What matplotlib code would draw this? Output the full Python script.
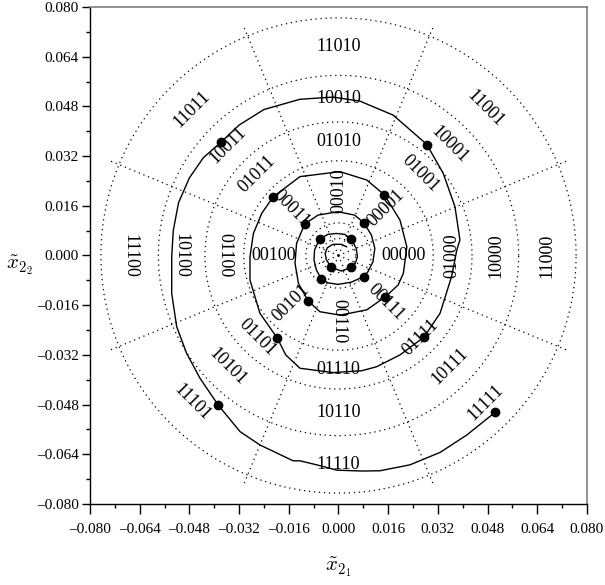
import numpy as np
import matplotlib
matplotlib.use("Agg")
import matplotlib.pyplot as plt
from matplotlib.ticker import MultipleLocator, FuncFormatter

plt.rcParams['font.family'] = ['Liberation Serif', 'DejaVu Serif']
plt.rcParams['mathtext.fontset'] = 'cm'

# trajectory (outer start -> centre)
traj_x = [0.0504, 0.0413, 0.0327, 0.0230, 0.0134, 0.0075, -0.0006, -0.0070, -0.0124, -0.0146,
          -0.0253, -0.0317, -0.0387, -0.0446, -0.0489, -0.0521, -0.0537, -0.0537, -0.0532, -0.0515,
          -0.0480, -0.0435, -0.0378, -0.0320, -0.0240, -0.0124, -0.0018, 0.0069, 0.0176, 0.0284,
          0.0337, 0.0375, 0.0391, 0.0381, 0.0364, 0.0327, 0.0275, 0.0198, 0.0123, 0.0075,
          -0.0017, -0.0124, -0.0170, -0.0197, -0.0253, -0.0285, -0.0285, -0.0274, -0.0247, -0.0210,
          -0.0124, 0.0005, 0.0091, 0.0148, 0.0198, 0.0220, 0.0209, 0.0192, 0.0151, 0.0091,
          0.0005, -0.0060, -0.0098, -0.0129, -0.0140, -0.0135, -0.0109, -0.0066, -0.0002, 0.0052,
          0.0081, 0.0106, 0.0117, 0.0111, 0.0095, 0.0081, 0.0041, -0.0002, -0.0034, -0.0055,
          -0.0071, -0.0079, -0.0077, -0.0061, -0.0034, -0.0007, 0.0020, 0.0041, 0.0057, 0.0061,
          0.0054, 0.0041, 0.0009, -0.0023, -0.0039, -0.0043, -0.0036, -0.0018, 0.0009, 0.0026]
traj_y = [-0.0505, -0.0578, -0.0634, -0.0674, -0.0693, -0.0694, -0.0691, -0.0674, -0.0661, -0.0661,
          -0.0610, -0.0567, -0.0482, -0.0395, -0.0315, -0.0229, -0.0122, -0.0004, 0.0080, 0.0170,
          0.0250, 0.0315, 0.0365, 0.0420, 0.0470, 0.0503, 0.0510, 0.0497, 0.0452, 0.0358,
          0.0265, 0.0157, 0.0050, 0.0018, -0.0068, -0.0186, -0.0263, -0.0320, -0.0358, -0.0371,
          -0.0377, -0.0363, -0.0320, -0.0266, -0.0186, -0.0079, -0.0004, 0.0071, 0.0136, 0.0189,
          0.0254, 0.0270, 0.0243, 0.0195, 0.0114, 0.0028, -0.0057, -0.0095, -0.0133, -0.0175,
          -0.0192, -0.0181, -0.0146, -0.0090, -0.0025, 0.0039, 0.0101, 0.0130, 0.0141, 0.0130,
          0.0106, 0.0066, 0.0023, -0.0020, -0.0052, -0.0068, -0.0086, -0.0093, -0.0088, -0.0076,
          -0.0047, -0.0014, 0.0018, 0.0053, 0.0068, 0.0071, 0.0068, 0.0053, 0.0023, -0.0004,
          -0.0025, -0.0038, -0.0050, -0.0038, -0.0014, 0.0007, 0.0025, 0.0036, 0.0036, 0.0028]

# sampled states (black dots)
dot_x = [0.0504, -0.0387, -0.0378, 0.0285, 0.0275, -0.0197, -0.0210, 0.0148, 0.0151,
         -0.0098, -0.0109, 0.0081, 0.0081, -0.0055, -0.0061, 0.0041, 0.0041, -0.0023]
dot_y = [-0.0505, -0.0482, 0.0365, 0.0355, -0.0263, -0.0266, 0.0189, 0.0195, -0.0133,
         -0.0146, 0.0101, 0.0106, -0.0068, -0.0076, 0.0053, 0.0053, -0.0038, -0.0038]

# partition: circle radii and sector boundaries
circle_r = [0.0055, 0.0105, 0.0305, 0.0430, 0.0580, 0.0765]
ring_edges = [0.0, 0.0305, 0.0430, 0.0580, 0.0795]
boundary_deg = [22.5, 67.5, 112.5, 157.5, 202.5, 247.5, 292.5, 337.5]

# code labels
ring_bits = ['00', '01', '10', '11']
sector_bits = ['000', '001', '010', '011', '100', '101', '110', '111']
sector_deg = [0, 45, 90, 135, 180, 225, 270, 315]
label_r_axis = [0.0210, 0.0366, 0.0507, 0.0672]
label_r_diag = [0.0215, 0.0372, 0.0505, 0.0668]

fig = plt.figure(figsize=(6.05, 5.85), dpi=100)
ax = fig.add_axes([0.1488, 0.1385, 0.8214, 0.8495])

dot_style = dict(color='black', lw=0.9, linestyle=(0, (1, 3)))
t = np.linspace(0, 2 * np.pi, 400)
for r in circle_r:
    ax.plot(r * np.cos(t), r * np.sin(t), **dot_style)
for a in boundary_deg:
    c, s = np.cos(np.radians(a)), np.sin(np.radians(a))
    ax.plot([ring_edges[0] * c, ring_edges[-1] * c], [ring_edges[0] * s, ring_edges[-1] * s], **dot_style)

for i, rb in enumerate(ring_bits):
    for j, sb in enumerate(sector_bits):
        a = sector_deg[j]
        r = label_r_axis[i] if a % 90 == 0 else label_r_diag[i]
        # inner ring: radial text, outer rings: tangential text, flipped to stay readable
        rot = a if i == 0 else a + 90
        rot = (rot + 180) % 360 - 180
        if rot > 90:
            rot -= 180
        elif rot < -90:
            rot += 180
        ax.text(r * np.cos(np.radians(a)), r * np.sin(np.radians(a)), rb + sb,
                rotation=rot, ha='center', va='center', fontsize=13,
                rotation_mode='anchor')

ax.plot(traj_x, traj_y, color='black', lw=1.0)
ax.plot(dot_x, dot_y, 'o', color='black', ms=6)

ax.set_xlim(-0.08, 0.08)
ax.set_ylim(-0.08, 0.08)
ax.xaxis.set_major_locator(MultipleLocator(0.016))
ax.yaxis.set_major_locator(MultipleLocator(0.016))
ax.xaxis.set_minor_locator(MultipleLocator(0.008))
ax.yaxis.set_minor_locator(MultipleLocator(0.008))
fmt = FuncFormatter(lambda v, p: ('%.3f' % v).replace('-', '\u2013') if abs(v) > 1e-9 else '0.000')
ax.xaxis.set_major_formatter(fmt)
ax.yaxis.set_major_formatter(fmt)
ax.tick_params(which='both', direction='out', top=False, right=False, labelsize=11, width=1)
ax.tick_params(axis='x', which='major', length=7, pad=7)
ax.tick_params(axis='x', which='minor', length=3)
ax.tick_params(axis='y', which='major', length=6, pad=2)
ax.tick_params(axis='y', which='minor', length=3)
for side in ['top', 'right']:
    ax.spines[side].set_color('#7f7f7f')
    ax.spines[side].set_linewidth(1.2)
for side in ['left', 'bottom']:
    ax.spines[side].set_linewidth(1.0)

ax.set_xlabel(r'$\tilde{x}_{2_1}$', fontsize=15, va='center')
ax.set_ylabel(r'$\tilde{x}_{2_2}$', fontsize=15, rotation=0, va='center', ha='center')
ax.xaxis.set_label_coords(0.5, -0.127)
ax.yaxis.set_label_coords(-0.141, 0.481)

fig.savefig('out.png', dpi=100)
